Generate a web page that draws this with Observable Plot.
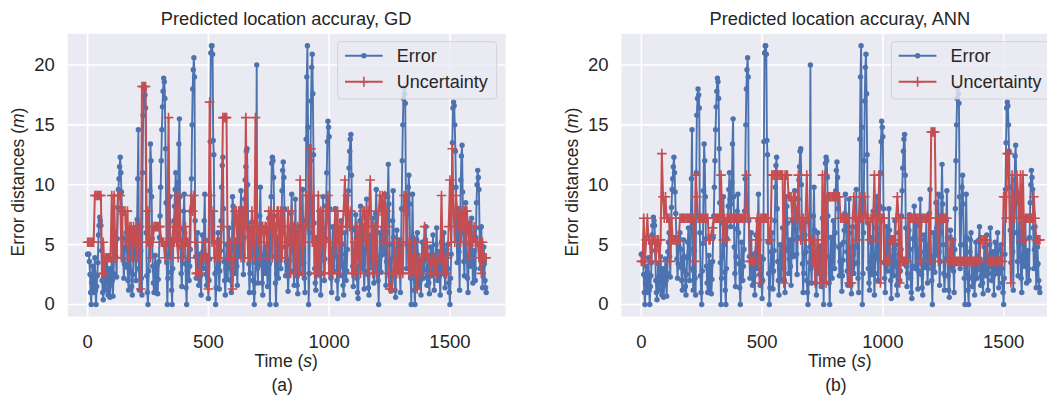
<!DOCTYPE html>
<html><head><meta charset="utf-8">
<script src="https://cdn.jsdelivr.net/npm/d3@7"></script>
<script src="https://cdn.jsdelivr.net/npm/@observablehq/plot@0.6"></script>
<style>
html,body{margin:0;padding:0;background:#fff;overflow:hidden;width:1047px;height:398px;}
#wrap{position:relative;width:1047px;height:398px;overflow:hidden;}
.panel{position:absolute;top:0;}
.panel svg{max-width:none !important;}
svg text{font-family:"Liberation Sans",Arial,sans-serif;}
</style></head><body><div id="wrap"></div>
<script>
// sampling intervals (s)
const errorStep = 2.5;
const uncertaintyStep = 5;
// Error distance (m), shared by both panels, one value every 2.5 s from t=0 to t=1650
const errorValues = [
4.2,4.2,4.2,3.6,2.5,1.0,0.0,1.8,3.2,2.0,1.0,2.6,3.9,1.2,0.0,1.5,2.4,3.5,5.8,6.6,
7.3,7.0,6.6,4.5,2.0,1.0,0.4,2.2,3.4,2.0,1.2,3.0,4.0,2.2,0.8,2.0,3.0,0.6,1.6,2.8,
3.8,2.0,0.7,2.6,4.4,5.2,6.0,4.0,2.3,5.5,8.1,9.6,10.5,11.5,12.3,11.0,9.4,7.6,5.6,3.8,
2.2,3.4,4.8,5.5,6.0,4.6,3.1,2.0,1.2,3.8,5.4,4.0,2.8,1.5,0.8,2.5,3.9,5.2,6.4,4.2,
2.0,4.6,7.1,10.5,14.6,3.0,1.2,2.8,4.5,2.2,0.8,11.0,15.8,17.2,18.0,17.5,16.4,6.0,2.4,1.0,
0.0,2.8,5.1,9.5,13.4,12.0,9.0,5.5,3.2,1.8,1.0,2.9,4.1,1.0,2.3,3.3,0.9,2.1,3.6,5.6,
7.4,9.8,12.0,14.6,16.5,17.8,18.9,18.6,17.2,13.0,8.5,3.5,0.0,2.2,4.0,6.8,9.0,5.0,2.7,1.2,
0.0,3.0,5.5,7.0,8.2,9.6,11.0,8.8,6.5,8.4,10.2,13.4,15.5,9.0,4.8,2.6,1.5,4.0,6.3,7.8,
9.2,6.0,3.4,1.4,0.0,2.8,5.2,3.6,2.0,3.2,4.6,7.8,10.5,15.0,18.0,19.6,20.6,19.0,7.0,4.0,
2.2,4.0,6.0,3.4,1.6,2.9,4.2,2.4,0.8,3.6,5.8,4.4,3.0,7.0,9.2,5.4,2.5,1.6,4.0,2.2,
0.5,2.0,3.8,13.6,21.0,21.6,21.6,20.9,13.7,12.5,5.2,2.6,0.0,1.4,3.0,4.4,6.0,3.4,1.3,2.8,
4.5,7.0,9.8,11.6,12.3,8.0,3.6,2.0,0.8,3.0,5.0,3.6,2.1,4.2,6.4,4.6,3.0,2.0,1.0,4.8,
9.0,8.2,6.8,4.5,2.6,3.8,5.4,3.2,1.6,4.6,7.0,5.4,4.0,6.8,9.5,8.0,6.2,4.2,2.5,5.6,
8.8,10.4,11.5,12.8,13.0,10.0,6.4,3.4,1.0,2.6,4.3,5.8,6.9,4.4,2.0,1.0,0.0,1.8,3.5,4.8,
20.0,3.0,1.8,3.6,5.0,7.4,9.8,6.2,3.3,1.8,0.8,3.9,6.0,4.2,2.6,3.8,4.9,3.0,1.5,4.4,
7.2,3.4,0.0,4.6,9.0,11.8,12.3,12.0,10.6,7.4,4.0,1.8,0.0,2.6,5.6,3.8,2.2,4.6,7.0,5.0,
3.0,6.0,9.5,11.2,11.9,10.6,8.0,4.8,2.4,3.6,5.0,2.8,1.1,2.4,3.7,5.2,6.2,7.6,9.2,6.6,
4.4,2.8,1.6,4.8,8.8,6.0,3.0,1.6,0.9,3.8,6.5,4.2,2.6,3.4,4.8,7.2,9.6,6.4,3.5,2.2,
1.0,7.0,13.8,19.0,21.6,14.8,0.0,2.6,6.0,12.0,17.0,19.8,20.9,17.6,12.5,6.8,3.0,1.8,1.2,3.6,
5.6,4.0,2.5,5.4,7.8,3.6,0.8,2.6,4.2,6.4,9.0,5.8,2.0,3.8,5.5,8.2,11.0,13.6,15.3,14.8,
14.0,8.0,3.5,2.2,1.0,3.8,6.5,4.6,2.8,5.6,8.0,6.2,4.0,2.0,0.5,3.2,5.2,3.6,2.4,4.6,
7.0,5.0,3.2,1.6,0.8,3.4,6.0,4.2,2.0,2.8,4.6,7.4,9.5,11.4,12.8,13.8,14.2,10.8,6.4,3.2,
1.5,2.6,4.0,6.2,7.5,4.6,2.2,1.0,0.5,3.2,5.5,7.0,8.2,5.6,3.0,4.8,6.6,3.4,1.3,2.8,
4.5,6.6,8.8,5.4,2.5,1.4,0.8,3.6,5.8,4.4,3.1,5.0,7.2,3.8,1.8,3.0,4.8,7.6,9.6,6.0,
3.5,2.0,0.0,3.4,6.0,4.0,2.7,5.6,8.5,6.4,4.2,7.0,9.2,4.4,1.6,3.6,6.0,9.0,11.7,8.4,
5.0,2.6,1.2,2.4,3.8,7.0,9.5,5.6,2.4,1.2,0.6,3.8,6.2,4.6,3.0,4.0,5.4,2.8,1.0,4.6,
8.0,12.0,15.0,17.2,18.1,17.6,16.8,9.0,3.0,5.0,7.6,9.8,10.8,8.4,5.0,2.2,0.0,4.8,9.2,5.6,
2.6,1.2,0.0,2.2,4.4,5.4,6.0,3.6,1.5,2.4,3.6,2.0,0.8,3.4,5.2,3.6,2.2,2.9,4.0,5.4,
6.5,3.8,1.6,2.4,3.2,1.8,0.9,3.4,4.8,3.0,2.4,4.2,5.8,3.0,1.2,2.6,3.8,5.0,6.4,4.0,
2.0,3.2,4.4,2.4,0.8,3.0,5.2,4.0,2.6,4.4,6.0,3.4,1.4,2.6,3.6,4.6,5.0,3.0,1.8,1.0,
0.0,2.2,4.2,9.6,13.5,16.4,16.9,16.6,15.0,12.8,9.8,6.2,3.5,5.8,8.0,4.4,1.2,6.0,10.4,12.4,
13.3,9.4,6.0,3.6,2.4,5.2,8.5,6.0,4.0,2.2,1.0,4.0,6.8,5.0,3.2,5.4,7.2,4.2,1.8,3.2,
4.5,3.0,2.0,5.6,8.5,10.0,11.2,10.6,9.6,6.4,3.0,4.6,6.5,3.8,1.4,3.2,4.8,3.4,2.0,1.4,
1.0];
// Uncertainty (m), GD model, one value every 5 s
const uncertaintyGD = [
5.2,5.2,5.2,5.2,5.2,5.2,9.1,9.1,9.1,9.1,
9.1,9.1,2.6,5.2,2.6,3.9,3.9,3.9,3.9,3.9,
9.1,3.9,9.1,3.9,3.9,9.1,9.1,9.1,3.9,7.8,
7.8,7.8,5.2,7.8,3.9,6.5,6.5,3.9,6.5,5.2,
6.5,3.9,5.2,6.5,1.3,18.2,18.2,18.2,18.2,5.2,
7.8,5.2,3.9,6.5,5.2,6.5,6.5,6.5,6.5,6.5,
6.5,5.2,5.2,5.2,3.9,5.2,5.2,15.6,5.2,3.9,
5.2,6.5,5.2,9.1,5.2,3.9,9.1,5.2,5.2,3.9,
5.2,6.5,5.2,5.2,3.9,7.8,9.1,7.8,9.1,5.2,
2.6,2.6,2.6,2.6,3.9,3.9,3.9,5.2,3.9,3.9,
1.3,16.9,9.1,5.2,7.8,3.9,3.9,5.2,3.9,5.2,
3.9,6.5,15.6,15.6,15.6,15.6,3.9,3.9,5.2,3.9,
1.3,3.9,7.8,7.8,5.2,7.8,7.8,3.9,7.8,7.8,
3.9,15.6,6.5,3.9,6.5,3.9,7.8,5.2,3.9,15.6,
6.5,5.2,6.5,3.9,6.5,6.5,5.2,6.5,6.5,3.9,
7.8,6.5,7.8,3.9,7.8,6.5,3.9,7.8,7.8,3.9,
7.8,3.9,7.8,6.5,3.9,5.2,7.8,5.2,2.6,7.8,
5.2,6.5,2.6,5.2,6.5,2.6,10.4,6.5,2.6,6.5,
5.2,9.1,6.5,9.1,13.0,13.0,5.2,9.1,2.6,5.2,
2.6,9.1,2.6,7.8,5.2,7.8,2.6,5.2,7.8,9.1,
2.6,5.2,2.6,2.6,5.2,7.8,5.2,7.8,2.6,6.5,
5.2,6.5,7.8,10.4,6.5,9.1,7.8,6.5,7.8,2.6,
2.6,5.2,2.6,6.5,3.9,6.5,2.6,6.5,7.8,7.8,
5.2,7.8,2.6,7.8,10.4,6.5,2.6,6.5,3.9,2.6,
6.5,7.8,9.1,7.8,9.1,5.2,9.1,7.8,6.5,2.6,
1.3,1.3,1.3,2.6,5.2,2.6,2.6,5.2,2.6,2.6,
5.2,2.6,9.1,7.8,9.1,5.2,2.6,5.2,2.6,3.9,
2.6,5.2,2.6,1.3,3.9,3.9,2.6,3.9,3.9,6.5,
3.9,5.2,3.9,3.9,2.6,3.9,3.9,2.6,3.9,2.6,
3.9,3.9,3.9,9.1,3.9,2.6,3.9,2.6,3.9,6.5,
10.4,5.2,13.0,7.8,5.2,9.1,7.8,6.5,7.8,5.2,
7.8,6.5,7.8,5.2,7.8,6.5,3.9,6.5,5.2,5.2,
6.5,5.2,5.2,5.2,3.9,5.2,2.6,5.2,3.9,3.9,
3.9];
// Uncertainty (m), ANN model, one value every 5 s
const uncertaintyANN = [
3.6,3.6,7.2,3.6,5.4,7.2,5.4,5.4,3.6,5.4,
5.4,5.4,3.6,5.4,5.4,3.6,5.4,12.6,9.0,7.2,
9.0,7.2,7.2,7.2,3.6,7.2,5.4,5.4,5.4,5.4,
5.4,5.4,7.2,7.2,7.2,7.2,7.2,7.2,7.2,7.2,
7.2,7.2,7.2,7.2,3.6,10.8,9.0,7.2,7.2,7.2,
7.2,7.2,7.2,7.2,7.2,7.2,5.4,5.4,5.8,6.4,
7.2,7.2,7.2,7.2,7.2,7.2,10.8,7.2,5.4,7.2,
5.4,7.2,7.2,7.2,7.2,7.2,7.2,7.2,7.2,7.2,
7.2,7.2,7.2,7.2,7.2,7.2,7.2,10.8,7.2,7.2,
3.6,3.6,3.6,3.6,3.6,5.4,7.2,7.2,1.8,7.2,
7.2,7.2,7.2,7.2,7.2,7.2,5.4,5.4,10.8,10.8,
10.8,10.8,10.8,10.8,10.8,10.8,10.8,10.8,1.8,10.8,
10.8,10.8,9.0,9.0,9.0,7.2,9.0,9.0,7.2,7.2,
10.8,7.2,5.4,7.2,7.2,5.4,7.2,10.8,7.2,5.4,
5.4,5.4,3.6,5.4,1.8,3.6,5.4,3.6,1.8,1.8,
10.8,1.8,10.8,1.8,9.0,9.0,9.0,9.0,9.0,9.0,
9.0,9.0,9.0,9.0,9.0,7.2,7.2,7.2,7.2,7.2,
7.2,7.2,1.8,1.8,1.8,7.2,9.0,7.2,7.2,5.4,
7.2,9.0,7.2,7.2,7.2,9.0,7.2,7.2,7.2,5.4,
7.2,7.2,7.2,10.8,5.4,7.2,7.2,10.8,1.8,7.2,
7.2,7.2,3.6,3.6,3.6,3.6,5.4,5.4,5.4,5.4,
5.4,7.2,9.0,7.2,1.8,7.2,3.6,3.6,3.6,3.6,
3.6,7.2,7.2,7.2,7.2,7.2,7.2,7.2,7.2,7.2,
7.2,3.6,7.2,7.2,7.2,7.2,7.2,7.2,7.2,3.6,
14.4,14.4,14.4,14.4,7.2,7.2,3.6,7.2,7.2,7.2,
7.2,7.2,7.2,7.2,3.6,3.6,3.6,5.4,3.6,3.6,
3.6,3.6,3.6,3.6,3.6,3.6,3.6,3.6,3.6,3.6,
3.6,3.6,3.6,3.6,3.6,3.6,3.6,3.6,3.6,3.6,
3.6,5.4,5.4,5.4,5.4,5.4,5.4,3.6,3.6,3.6,
3.6,3.6,3.6,3.6,3.6,3.6,3.6,3.6,3.6,3.6,
9.0,9.0,7.2,12.6,12.6,7.2,1.8,10.8,9.0,7.2,
9.0,10.8,9.0,7.2,10.8,5.4,10.8,5.4,7.2,7.2,
7.2,7.2,7.2,7.2,7.2,9.0,7.2,5.4,5.4,5.4,
5.4];
const xTicks = [0, 500, 1000, 1500];
const yTicks = [0, 5, 10, 15, 20];
const panelTitles = ["Predicted location accuray, GD", "Predicted location accuray, ANN"];
const captions = ["(a)", "(b)"];
const seriesNames = ["Error", "Uncertainty"];

const BLUE = "#4C72B0", RED = "#C44E52", BG = "#EAEAF2", TXT = "#262626";
const FONT = "'Liberation Sans', Arial, sans-serif";

function makePanel({left, width, marginLeft, marginRight, unc, title, caption}) {
  const err = errorValues.map((v, i) => ({t: i * errorStep, v}));
  const un = unc.map((v, i) => ({t: i * uncertaintyStep, v}));
  const H = 398, mt = 33.3, mb = 82;
  const svg = Plot.plot({
    width, height: H, marginLeft, marginRight, marginTop: mt, marginBottom: mb,
    x: {domain: [-82, 1730]},
    y: {domain: [-1.0, 22.6]},
    style: {fontFamily: FONT, fontSize: "18px", color: TXT, background: "transparent", overflow: "visible", maxWidth: "none"},
    marks: [
      Plot.frame({fill: BG, stroke: "none"}),
      Plot.gridX(xTicks, {stroke: "white", strokeOpacity: 1, strokeWidth: 1.6}),
      Plot.gridY(yTicks, {stroke: "white", strokeOpacity: 1, strokeWidth: 1.6}),
      Plot.axisX(xTicks, {tickSize: 0, tickPadding: 18, label: null, fontSize: 18.5, fill: TXT, tickFormat: d => String(d)}),
      Plot.axisY(yTicks, {tickSize: 0, tickPadding: 13, label: null, fontSize: 18.5, fill: TXT, tickFormat: d => String(d)}),
      Plot.line(err, {x: "t", y: "v", stroke: BLUE, strokeWidth: 1.9}),
      Plot.dot(err, {x: "t", y: "v", r: 2.7, fill: BLUE, stroke: "none"}),
      Plot.line(un, {x: "t", y: "v", stroke: RED, strokeWidth: 2}),
      Plot.dot(un, {x: "t", y: "v", symbol: "plus", r: 3.2, stroke: RED, strokeWidth: 1.6})
    ]
  });
  svg.style.maxWidth = "none";
  const s = d3.select(svg);
  const plotL = marginLeft, plotR = width - marginRight;
  const cx = (plotL + plotR) / 2;
  s.append("text").attr("x", cx).attr("y", 24.5).attr("text-anchor", "middle")
    .attr("font-size", 18.3).attr("fill", TXT).attr("font-family", FONT).text(title);
  const xl = s.append("text").attr("x", cx).attr("y", 367).attr("text-anchor", "middle")
    .attr("font-size", 17.5).attr("fill", TXT).attr("font-family", FONT);
  xl.append("tspan").text("Time (");
  xl.append("tspan").attr("font-style", "italic").text("s");
  xl.append("tspan").text(")");
  const yl = s.append("text").attr("transform", `translate(${plotL - 43},182) rotate(-90)`)
    .attr("text-anchor", "middle").attr("font-size", 17.5).attr("fill", TXT).attr("font-family", FONT);
  yl.append("tspan").text("Error distances (");
  yl.append("tspan").attr("font-style", "italic").text("m");
  yl.append("tspan").text(")");
  s.append("text").attr("x", cx - 4).attr("y", 391).attr("text-anchor", "middle")
    .attr("font-size", 17.5).attr("fill", TXT).attr("font-family", FONT).text(caption);
  // legend
  const lx = plotR - 8.3 - 159, ly = 41.7;
  const g = s.append("g");
  g.append("rect").attr("x", lx).attr("y", ly).attr("width", 159).attr("height", 57.3).attr("rx", 3.5)
    .attr("fill", BG).attr("fill-opacity", 0.8).attr("stroke", "#CCCCCC").attr("stroke-opacity", 0.8).attr("stroke-width", 1);
  const rows = [{name: seriesNames[0], color: BLUE, y: ly + 14}, {name: seriesNames[1], color: RED, y: ly + 40}];
  rows.forEach((r, i) => {
    g.append("line").attr("x1", lx + 7.3).attr("x2", lx + 45).attr("y1", r.y).attr("y2", r.y)
      .attr("stroke", r.color).attr("stroke-width", i ? 2 : 1.9);
    const mx = lx + 26.2;
    if (i === 0) {
      g.append("circle").attr("cx", mx).attr("cy", r.y).attr("r", 2.7).attr("fill", r.color);
    } else {
      g.append("path").attr("d", `M${mx - 5},${r.y}H${mx + 5}M${mx},${r.y - 5}V${r.y + 5}`)
        .attr("stroke", r.color).attr("stroke-width", 1.6);
    }
    g.append("text").attr("x", lx + 59).attr("y", r.y).attr("dy", "0.36em").attr("font-size", 18)
      .attr("text-anchor", "start").attr("fill", TXT).attr("font-family", FONT).text(r.name);
  });
  const div = document.createElement("div");
  div.className = "panel";
  div.style.left = left + "px";
  div.style.width = width + "px";
  div.appendChild(svg);
  document.getElementById("wrap").appendChild(div);
}

makePanel({left: 0, width: 520, marginLeft: 67.3, marginRight: 15, unc: uncertaintyGD, title: panelTitles[0], caption: captions[0]});
makePanel({left: 530, width: 530, marginLeft: 91, marginRight: 1.3, unc: uncertaintyANN, title: panelTitles[1], caption: captions[1]});
</script>
</body></html>
